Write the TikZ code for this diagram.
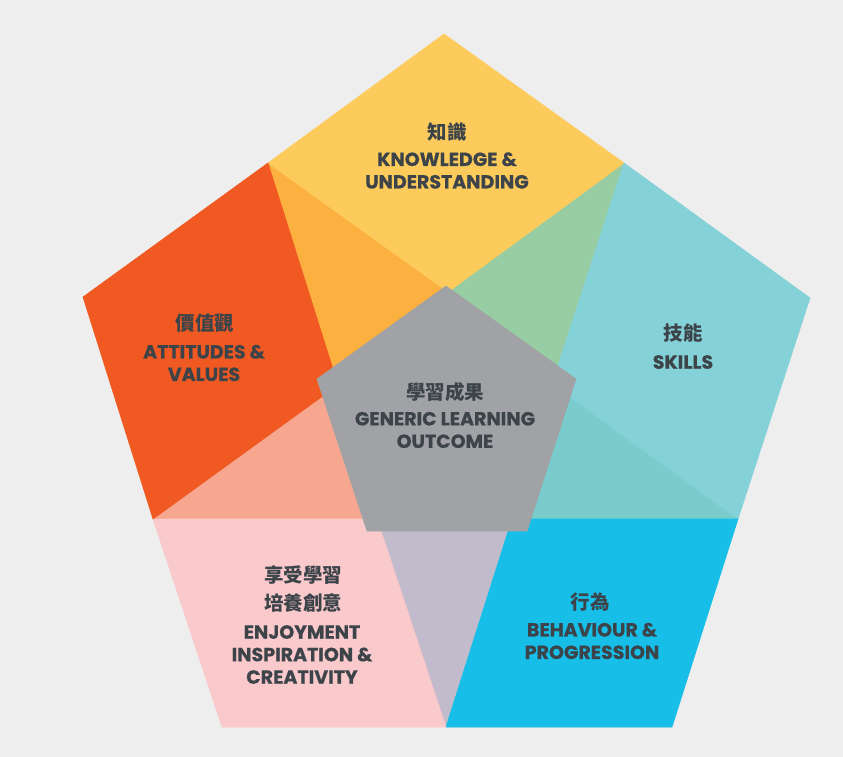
\documentclass[tikz,border=0pt]{standalone}
\usepackage{fontspec}
\setmainfont{Poppins}[BoldFeatures={FakeBold=0.6}]
\newfontfamily\cjk{Noto Sans CJK TC}
\definecolor{bg}{HTML}{EEEEEE}
\definecolor{cyellow}{HTML}{FDCB5C}
\definecolor{clorange}{HTML}{FBB040}
\definecolor{corange}{HTML}{F05A22}
\definecolor{csalmon}{HTML}{F7A690}
\definecolor{cpink}{HTML}{F9C9CC}
\definecolor{clav}{HTML}{C2BBCC}
\definecolor{cblue}{HTML}{16BEE8}
\definecolor{cdteal}{HTML}{7ACCCC}
\definecolor{cteal}{HTML}{84D1D8}
\definecolor{cgreen}{HTML}{98CCA2}
\definecolor{cgray}{HTML}{A0A2A5}
\definecolor{ctext}{HTML}{3C4449}
\tikzset{
  piece/.style={fill=#1, draw=#1, line width=0.6pt, line join=round},
  zh/.style={text=ctext, font=\cjk\bfseries\fontsize{19.5}{22}\selectfont, inner sep=0pt},
  en/.style={text=ctext, font=\bfseries\fontsize{19}{22.5}\selectfont, align=center, inner sep=0pt}
}
\begin{document}
\begin{tikzpicture}[x=1pt,y=-1pt]
\useasboundingbox (0,0) rectangle (843,757);
\fill[bg] (0,0) rectangle (843,757);
% outer vertices
\coordinate (T) at (444,34);
\coordinate (UR) at (810,298);
\coordinate (LR) at (672,727);
\coordinate (LL) at (222,727);
\coordinate (UL) at (83,297);
% edge division points
\coordinate (Mtl) at (268,163);
\coordinate (Mtr) at (624,163);
\coordinate (Mr) at (738,519);
\coordinate (Mb) at (446,727);
\coordinate (Ml) at (153,519);
% inner rhombus corners
\coordinate (Ptop) at (448,292);
\coordinate (Pul) at (338,385);
\coordinate (Pur) at (552,384);
\coordinate (Plr) at (512,519);
\coordinate (Pll) at (377,519);
% gap triangles
\draw[piece=clorange] (Mtl) -- (Ptop) -- (Pul) -- cycle;
\draw[piece=cgreen] (Mtr) -- (Ptop) -- (Pur) -- cycle;
\draw[piece=cdteal] (Mr) -- (Pur) -- (Plr) -- cycle;
\draw[piece=clav] (Mb) -- (Plr) -- (Pll) -- cycle;
\draw[piece=csalmon] (Ml) -- (Pll) -- (Pul) -- cycle;
% rhombi
\draw[piece=cyellow] (T) -- (Mtr) -- (Ptop) -- (Mtl) -- cycle;
\draw[piece=cteal] (UR) -- (Mr) -- (Pur) -- (Mtr) -- cycle;
\draw[piece=cblue] (LR) -- (Mb) -- (Plr) -- (Mr) -- cycle;
\draw[piece=cpink] (LL) -- (Ml) -- (Pll) -- (Mb) -- cycle;
\draw[piece=corange] (UL) -- (Mtl) -- (Pul) -- (Ml) -- cycle;
% centre pentagon
\coordinate (G1) at (446,286);
\coordinate (G2) at (576,379);
\coordinate (G3) at (527,531);
\coordinate (G4) at (367,531);
\coordinate (G5) at (317,379);
\draw[piece=cgray] (G1) -- (G2) -- (G3) -- (G4) -- (G5) -- cycle;
% labels
\node[zh] (kzh) at (447,132) {知識};
\node[en] (ken) at (447,170.5) {KNOWLEDGE \&\\UNDERSTANDING};
\node[zh] (azh) at (205,323) {價值觀};
\node[en] (aen) at (204,363) {ATTITUDES \&\\VALUES};
\node[zh] (szh) at (683,333) {技能};
\node[en] (sen) at (683,362) {SKILLS};
\node[zh] (gzh) at (445,392) {學習成果};
\node[en] (gen) at (445,430) {GENERIC LEARNING\\OUTCOME};
\node[zh] (ezh1) at (303,575) {享受學習};
\node[zh] (ezh2) at (303,603) {培養創意};
\node[en] (een) at (302,654.5) {ENJOYMENT\\INSPIRATION \&\\CREATIVITY};
\node[zh] (bzh) at (590,602) {行為};
\node[en] (ben) at (592,641) {BEHAVIOUR \&\\PROGRESSION};
\end{tikzpicture}
\end{document}
